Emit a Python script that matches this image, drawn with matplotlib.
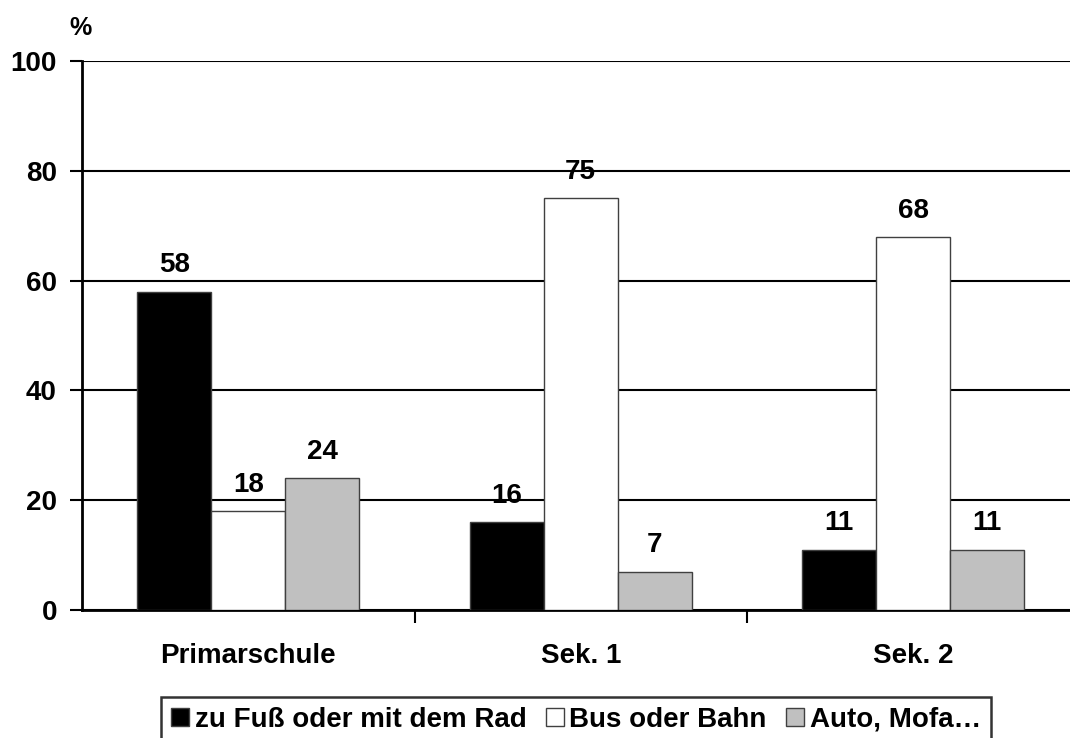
import numpy as np
import matplotlib
matplotlib.use('Agg')
import matplotlib.pyplot as plt

plt.rcParams['font.family'] = ['Liberation Sans', 'DejaVu Sans']
plt.rcParams['font.weight'] = 'bold'

# Data
schools = ['Primarschule', 'Sek. 1', 'Sek. 2']
series_names = ['zu Fuß oder mit dem Rad', 'Bus oder Bahn', 'Auto, Mofa…']
walk_bike = [58, 16, 11]
bus_train = [18, 75, 68]
car_moped = [24, 7, 11]
colors = ['#000000', '#ffffff', '#c0c0c0']
yticks = [0, 20, 40, 60, 80, 100]

fig = plt.figure(figsize=(10.7, 7.38), dpi=100)
ax = fig.add_axes([82 / 1070, 1 - 610 / 738, 997.5 / 1070, 549 / 738])

x = np.arange(len(schools))
w = 0.667 / 3
handles = []
for i, (vals, name, c) in enumerate(zip([walk_bike, bus_train, car_moped], series_names, colors)):
    bars = ax.bar(x + (i - 1) * w, vals, width=w, color=c, edgecolor='#404040',
                  linewidth=1.0, label=name, zorder=3)
    handles.append(bars)
    for b, v in zip(bars, vals):
        ax.text(b.get_x() + b.get_width() / 2, v + 2.4, str(v), ha='center', va='bottom',
                fontsize=20, fontweight='bold')

ax.set_xlim(-0.5, 2.5)
ax.set_ylim(0, 100)
ax.set_yticks(yticks)
ax.set_yticklabels([str(t) for t in yticks], fontsize=20, fontweight='bold')
ax.yaxis.grid(True, color='black', linewidth=1.5, zorder=0)
ax.set_axisbelow(True)

# category labels centred, ticks on the group boundaries
ax.set_xticks(x)
ax.set_xticklabels(schools, fontsize=20, fontweight='bold')
ax.tick_params(axis='x', length=0, pad=24)
ax.set_xticks([0.5, 1.5], minor=True)
ax.tick_params(axis='x', which='minor', length=9, width=1.5, direction='out')
ax.tick_params(axis='y', length=9, width=1.5, direction='out', pad=9)

for s in ['top', 'right']:
    ax.spines[s].set_visible(False)
ax.spines['left'].set_linewidth(2)
ax.spines['bottom'].set_linewidth(2)

fig.text(80 / 1070, 1 - 28 / 738, '%', ha='center', va='center', fontsize=18, fontweight='bold')

leg = fig.legend(handles=handles, loc='upper center', bbox_to_anchor=(576 / 1070, 1 - 697 / 738),
                 ncol=3, frameon=True, fancybox=False, edgecolor='black', fontsize=20,
                 handlelength=0.65, handleheight=0.65, handletextpad=0.2, columnspacing=0.7,
                 borderpad=0.35, borderaxespad=0)
leg.get_frame().set_linewidth(1.8)
for t in leg.get_texts():
    t.set_fontweight('bold')

fig.savefig('out.png', dpi=100)
